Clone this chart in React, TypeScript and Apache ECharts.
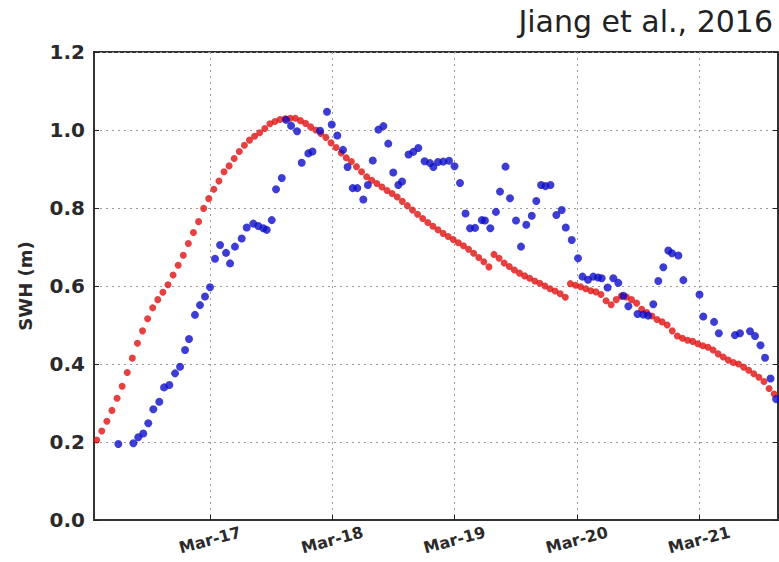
import React, { useEffect, useRef } from "react";
import * as echarts from "echarts";

// Tick positions (day of March) and y-axis ticks
const xTickDays = [17, 18, 19, 20, 21];
const yTickValues = [0, 0.2, 0.4, 0.6, 0.8, 1.0, 1.2];

// Model (red): hourly output starting Mar-16 ~01:45 (day 16.0729)
const redStartDay = 16.0729;
const redStepDays = 1 / 24;
const redSWH = [
  0.205, 0.228, 0.253, 0.281, 0.312, 0.343, 0.378, 0.415, 0.453, 0.485,
  0.516, 0.544, 0.565, 0.584, 0.603, 0.628, 0.653, 0.679, 0.709, 0.737,
  0.765, 0.799, 0.824, 0.848, 0.869, 0.893, 0.908, 0.927, 0.945, 0.961,
  0.974, 0.984, 0.993, 1.004, 1.016, 1.022, 1.027, 1.029, 1.03, 1.03,
  1.024, 1.017, 1.008, 1.0, 0.991, 0.981, 0.967, 0.955, 0.941, 0.929,
  0.919, 0.906, 0.893, 0.88, 0.871, 0.863, 0.854, 0.845, 0.837, 0.828,
  0.817, 0.806, 0.795, 0.784, 0.773, 0.763, 0.753, 0.744, 0.735, 0.727,
  0.719, 0.711, 0.703, 0.694, 0.684, 0.673, 0.662, 0.649, 0.681, 0.671,
  0.659, 0.65, 0.641, 0.633, 0.626, 0.62, 0.613, 0.607, 0.6, 0.593,
  0.587, 0.58, 0.571, 0.606, 0.602, 0.598, 0.593, 0.588, 0.585, 0.578,
  0.562, 0.552, 0.565, 0.574, 0.572, 0.565, 0.556, 0.54, 0.532, 0.523,
  0.514, 0.508, 0.5, 0.485, 0.472, 0.466, 0.461, 0.458, 0.452, 0.447,
  0.443, 0.436, 0.426, 0.418, 0.41, 0.404, 0.4, 0.392, 0.384, 0.375,
  0.366, 0.355, 0.337, 0.323,
];

// Observations (blue): day of March and SWH (m)
const blueDay = [
  16.25, 16.373, 16.413, 16.454, 16.495, 16.536, 16.585, 16.624, 16.667, 16.714,
  16.755, 16.796, 16.828, 16.877, 16.918, 16.959, 17.0, 17.041, 17.082, 17.131,
  17.164, 17.204, 17.259, 17.3, 17.354, 17.395, 17.436, 17.464, 17.505, 17.54,
  17.587, 17.622, 17.663, 17.712, 17.75, 17.804, 17.838, 17.9, 17.957, 17.996,
  18.041, 18.088, 18.125, 18.167, 18.205, 18.254, 18.291, 18.331, 18.377, 18.418,
  18.458, 18.499, 18.54, 18.571, 18.624, 18.663, 18.704, 18.755, 18.8, 18.827,
  18.865, 18.908, 18.955, 19.0, 19.045, 19.09, 19.127, 19.168, 19.223, 19.249,
  19.293, 19.339, 19.372, 19.417, 19.454, 19.503, 19.544, 19.587, 19.632, 19.669,
  19.708, 19.744, 19.785, 19.833, 19.877, 19.91, 19.959, 20.01, 20.047, 20.092,
  20.135, 20.174, 20.204, 20.252, 20.299, 20.34, 20.381, 20.422, 20.497, 20.544,
  20.583, 20.626, 20.667, 20.708, 20.749, 20.779, 20.831, 20.872, 21.004, 21.035,
  21.123, 21.162, 21.294, 21.335, 21.417, 21.458, 21.503, 21.54, 21.585, 21.63,
];
const blueSWH = [
  0.195, 0.197, 0.212, 0.222, 0.248, 0.284, 0.303, 0.34, 0.346, 0.376,
  0.393, 0.436, 0.464, 0.526, 0.551, 0.573, 0.597, 0.67, 0.705, 0.685,
  0.658, 0.701, 0.722, 0.75, 0.76, 0.754, 0.748, 0.744, 0.769, 0.848,
  0.877, 1.026, 1.011, 0.997, 0.916, 0.94, 0.945, 0.998, 1.047, 1.014,
  0.986, 0.949, 0.905, 0.851, 0.851, 0.822, 0.859, 0.922, 1.001, 1.01,
  0.965, 0.891, 0.859, 0.868, 0.937, 0.944, 0.954, 0.92, 0.915, 0.905,
  0.918, 0.919, 0.921, 0.907, 0.864, 0.786, 0.748, 0.749, 0.769, 0.768,
  0.748, 0.79, 0.842, 0.906, 0.825, 0.768, 0.701, 0.757, 0.78, 0.818,
  0.859, 0.856, 0.859, 0.782, 0.795, 0.75, 0.718, 0.671, 0.624, 0.616,
  0.624, 0.622, 0.62, 0.596, 0.62, 0.608, 0.575, 0.548, 0.528, 0.527,
  0.524, 0.553, 0.613, 0.648, 0.691, 0.684, 0.678, 0.615, 0.578, 0.522,
  0.508, 0.479, 0.474, 0.479, 0.484, 0.472, 0.448, 0.416, 0.363, 0.31,
];

const titleText = "Jiang et al., 2016";
const yAxisName = "SWH (m)";

export default function App() {
  const ref = useRef<HTMLDivElement>(null);

  useEffect(() => {
    if (!ref.current) return;
    const chart = echarts.init(ref.current, null, { renderer: "svg" });
    const redData = redSWH.map((v, i) => [redStartDay + i * redStepDays, v]);
    const blueData = blueSWH.map((v, i) => [blueDay[i], v]);
    const gridLine = { show: true, lineStyle: { color: "#9a9a9a", type: [2, 4] as any, width: 1 } };
    const tick = { show: true, inside: true, length: 5, lineStyle: { color: "#222", width: 1 } };

    chart.setOption({
      animation: false,
      backgroundColor: "#fff",
      title: {
        text: titleText,
        right: 1,
        top: 1,
        textStyle: { fontFamily: "DejaVu Sans", fontWeight: "normal", fontSize: 30, color: "#222" },
      },
      grid: {
        left: 94,
        right: 1,
        top: 52,
        bottom: 42,
        show: true,
        borderColor: "#333",
        borderWidth: 2,
        backgroundColor: "#fff",
      },
      xAxis: [
        {
          type: "value",
          min: 16.051,
          max: 21.646,
          axisLine: { show: true, lineStyle: { color: "#333", width: 2 } },
          axisTick: { ...tick, customValues: xTickDays },
          splitLine: gridLine,
          axisLabel: {
            customValues: xTickDays,
            formatter: (v: number) => "Mar-" + Math.round(v),
            rotate: 15,
            align: "center",
            verticalAlign: "middle",
            margin: 20,
            fontFamily: "DejaVu Sans",
            fontWeight: "bold",
            fontSize: 16,
            color: "#2a2a2a",
          },
        },
      ],
      yAxis: [
        {
          type: "value",
          min: 0,
          max: 1.2,
          interval: 0.2,
          name: yAxisName,
          nameLocation: "middle",
          nameRotate: 90,
          nameGap: 60,
          nameTextStyle: { fontFamily: "DejaVu Sans", fontWeight: "bold", fontSize: 18, color: "#2a2a2a" },
          axisLine: { show: true, lineStyle: { color: "#333", width: 2 } },
          axisTick: tick,
          splitLine: gridLine,
          axisLabel: {
            formatter: (v: number) => v.toFixed(1),
            margin: 9,
            fontFamily: "DejaVu Sans",
            fontWeight: "bold",
            fontSize: 20,
            color: "#2a2a2a",
          },
        },
        {
          type: "value",
          position: "right",
          min: 0,
          max: 1.2,
          interval: 0.2,
          axisLine: { show: false },
          axisTick: tick,
          splitLine: { show: false },
          axisLabel: { show: false },
        },
      ],
      series: [
        {
          type: "scatter",
          name: "model",
          data: redData,
          symbolSize: 7,
          itemStyle: { color: "#e01010" },
          clip: true,
        },
        {
          type: "scatter",
          name: "obs",
          data: blueData,
          symbolSize: 8,
          itemStyle: { color: "#0c0cc8" },
          clip: true,
        },
      ],
    });
    return () => chart.dispose();
  }, []);

  return (
    <div
      ref={ref}
      style={{ position: "fixed", left: 0, top: 0, width: 779, height: 562 }}
    />
  );
}
